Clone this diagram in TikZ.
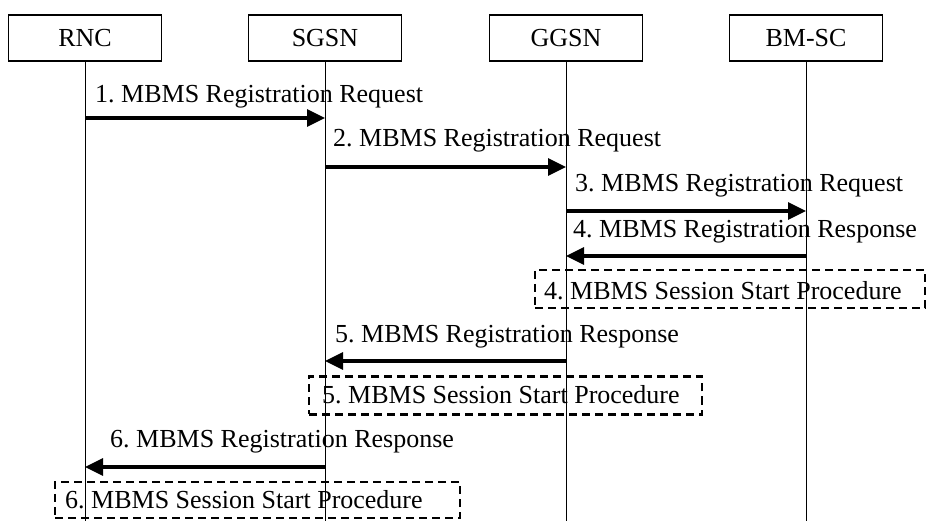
\documentclass[tikz,border=0pt]{standalone}
\usepackage{fontspec}
\setmainfont{Liberation Serif}
\usetikzlibrary{arrows.meta}
\frenchspacing
\begin{document}
\begin{tikzpicture}[x=1pt,y=-1pt,
  font=\fontsize{26}{30}\selectfont\frenchspacing,
  entity/.style={draw, line width=1.4pt, minimum width=153pt, minimum height=46pt, inner sep=0pt},
  life/.style={line width=1pt},
  msg/.style={line width=3.2pt, -{Triangle[length=18pt,width=17pt]}},
  lbl/.style={anchor=base west, inner sep=0pt},
  procbox/.style={draw, line width=2.8pt, dash pattern=on 8pt off 5pt, inner sep=0pt},
  proctext/.style={anchor=base west, inner sep=0pt}]
\useasboundingbox (0,0) rectangle (927,521);

% entities
\node[entity] (rnc)  at (85,38)  {RNC};
\node[entity] (sgsn) at (325,38) {SGSN};
\node[entity] (ggsn) at (566,38) {GGSN};
\node[entity] (bmsc) at (806,38) {BM-SC};

% lifeline ends
\coordinate (rncE)  at (rnc.south |- 0,521);
\coordinate (sgsnE) at (sgsn.south |- 0,521);
\coordinate (ggsnE) at (ggsn.south |- 0,521);
\coordinate (bmscE) at (bmsc.south |- 0,521);
\draw[life] (rnc.south) -- (rncE);
\draw[life] (sgsn.south) -- (sgsnE);
\draw[life] (ggsn.south) -- (ggsnE);
\draw[life] (bmsc.south) -- (bmscE);

% message end points
\coordinate (m1a) at (rnc.south |- 0,118);
\coordinate (m1b) at (sgsn.south |- 0,118);
\coordinate (m2a) at (sgsn.south |- 0,167);
\coordinate (m2b) at (ggsn.south |- 0,167);
\coordinate (m3a) at (ggsn.south |- 0,211);
\coordinate (m3b) at (bmsc.south |- 0,211);
\coordinate (m4a) at (bmsc.south |- 0,256);
\coordinate (m4b) at (ggsn.south |- 0,256);
\coordinate (m5a) at (ggsn.south |- 0,361);
\coordinate (m5b) at (sgsn.south |- 0,361);
\coordinate (m6a) at (sgsn.south |- 0,467);
\coordinate (m6b) at (rnc.south |- 0,467);

\draw[msg] (m1a) -- (m1b);
\draw[msg] (m2a) -- (m2b);
\draw[msg] (m3a) -- (m3b);
\draw[msg] (m4a) -- (m4b);
\draw[msg] (m5a) -- (m5b);
\draw[msg] (m6a) -- (m6b);

% message labels
\node[lbl] (l1) at (95,103)  {1. MBMS Registration Request};
\node[lbl] (l2) at (333,147) {2. MBMS Registration Request};
\node[lbl] (l3) at (575,192) {3. MBMS Registration Request};
\node[lbl] (l4) at (573,238) {4. MBMS Registration Response};
\node[lbl] (l5) at (335,343) {5. MBMS Registration Response};
\node[lbl] (l6) at (110,447) {6. MBMS Registration Response};

% procedure boxes
\node[procbox, minimum width=390pt, minimum height=38pt] (p4) at (730,289) {};
\node[proctext] (t4) at (544,300) {4. MBMS Session Start Procedure};
\node[procbox, minimum width=393pt, minimum height=38pt] (p5) at (505.5,395.5) {};
\node[proctext] (t5) at (322,403) {5. MBMS Session Start Procedure};
\node[procbox, minimum width=405pt, minimum height=36pt] (p6) at (257.5,500) {};
\node[proctext] (t6) at (65,508) {6. MBMS Session Start Procedure};
\end{tikzpicture}
\end{document}
